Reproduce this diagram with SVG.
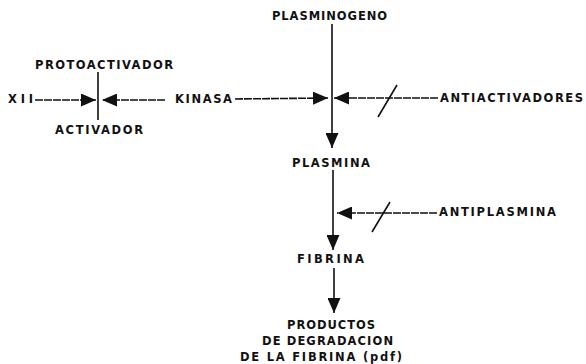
<svg xmlns="http://www.w3.org/2000/svg" width="586" height="364" viewBox="0 0 586 364">
<style>
text{font-family:"DejaVu Sans","Liberation Sans",sans-serif;font-weight:bold;font-size:11.5px;fill:#111;}
.ln{stroke:#111;stroke-width:1.6;fill:none;}
.h{stroke-dasharray:8 1;}
</style>
<defs>
<marker id="ah" markerUnits="userSpaceOnUse" markerWidth="15" markerHeight="13" refX="15" refY="6.5" orient="auto">
<path d="M0,0 L15,6.5 L0,13 Z" fill="#111"/>
</marker>
</defs>
<rect width="586" height="364" fill="#fff"/>
<g id="plasminogeno"><text x="272" y="20" textLength="115" lengthAdjust="spacing">PLASMINOGENO</text></g>
<g id="protoactivador"><text x="35" y="69" textLength="138" lengthAdjust="spacing">PROTOACTIVADOR</text></g>
<g id="xii"><text x="8" y="103" textLength="25" lengthAdjust="spacing">XII</text></g>
<g id="kinasa"><text x="175" y="103" textLength="57" lengthAdjust="spacing">KINASA</text></g>
<g id="activador"><text x="55" y="134" textLength="88" lengthAdjust="spacing">ACTIVADOR</text></g>
<g id="antiactivadores"><text x="440" y="102" textLength="143" lengthAdjust="spacing">ANTIACTIVADORES</text></g>
<g id="plasmina"><text x="292" y="167" textLength="78" lengthAdjust="spacing">PLASMINA</text></g>
<g id="antiplasmina"><text x="439" y="216" textLength="117" lengthAdjust="spacing">ANTIPLASMINA</text></g>
<g id="fibrina"><text x="297" y="263" textLength="67" lengthAdjust="spacing">FIBRINA</text></g>
<g id="productos">
<text x="287" y="329" textLength="88" lengthAdjust="spacing">PRODUCTOS</text>
<text x="262" y="345" textLength="131" lengthAdjust="spacing">DE DEGRADACION</text>
<text x="240" y="361" textLength="162" lengthAdjust="spacing">DE LA FIBRINA (pdf)</text>
</g>
<g id="connectors">
<line class="ln" x1="98" y1="72" x2="98" y2="120"/>
<line class="ln h" x1="35" y1="100" x2="96" y2="100" marker-end="url(#ah)"/>
<line class="ln h" x1="165" y1="100" x2="102" y2="100" marker-end="url(#ah)"/>
<line class="ln" x1="332" y1="24" x2="332" y2="148" marker-end="url(#ah)"/>
<line class="ln h" x1="235" y1="99" x2="328" y2="98" marker-end="url(#ah)"/>
<line class="ln h" x1="438" y1="98" x2="334" y2="98" marker-end="url(#ah)"/>
<line class="ln" x1="378" y1="117" x2="397" y2="85"/>
<line class="ln" x1="333" y1="170" x2="333" y2="250" marker-end="url(#ah)"/>
<line class="ln h" x1="437" y1="213" x2="337" y2="213" marker-end="url(#ah)"/>
<line class="ln" x1="372" y1="232" x2="390" y2="202"/>
<line class="ln" x1="334" y1="268" x2="334" y2="313" marker-end="url(#ah)"/>
</g>
</svg>
